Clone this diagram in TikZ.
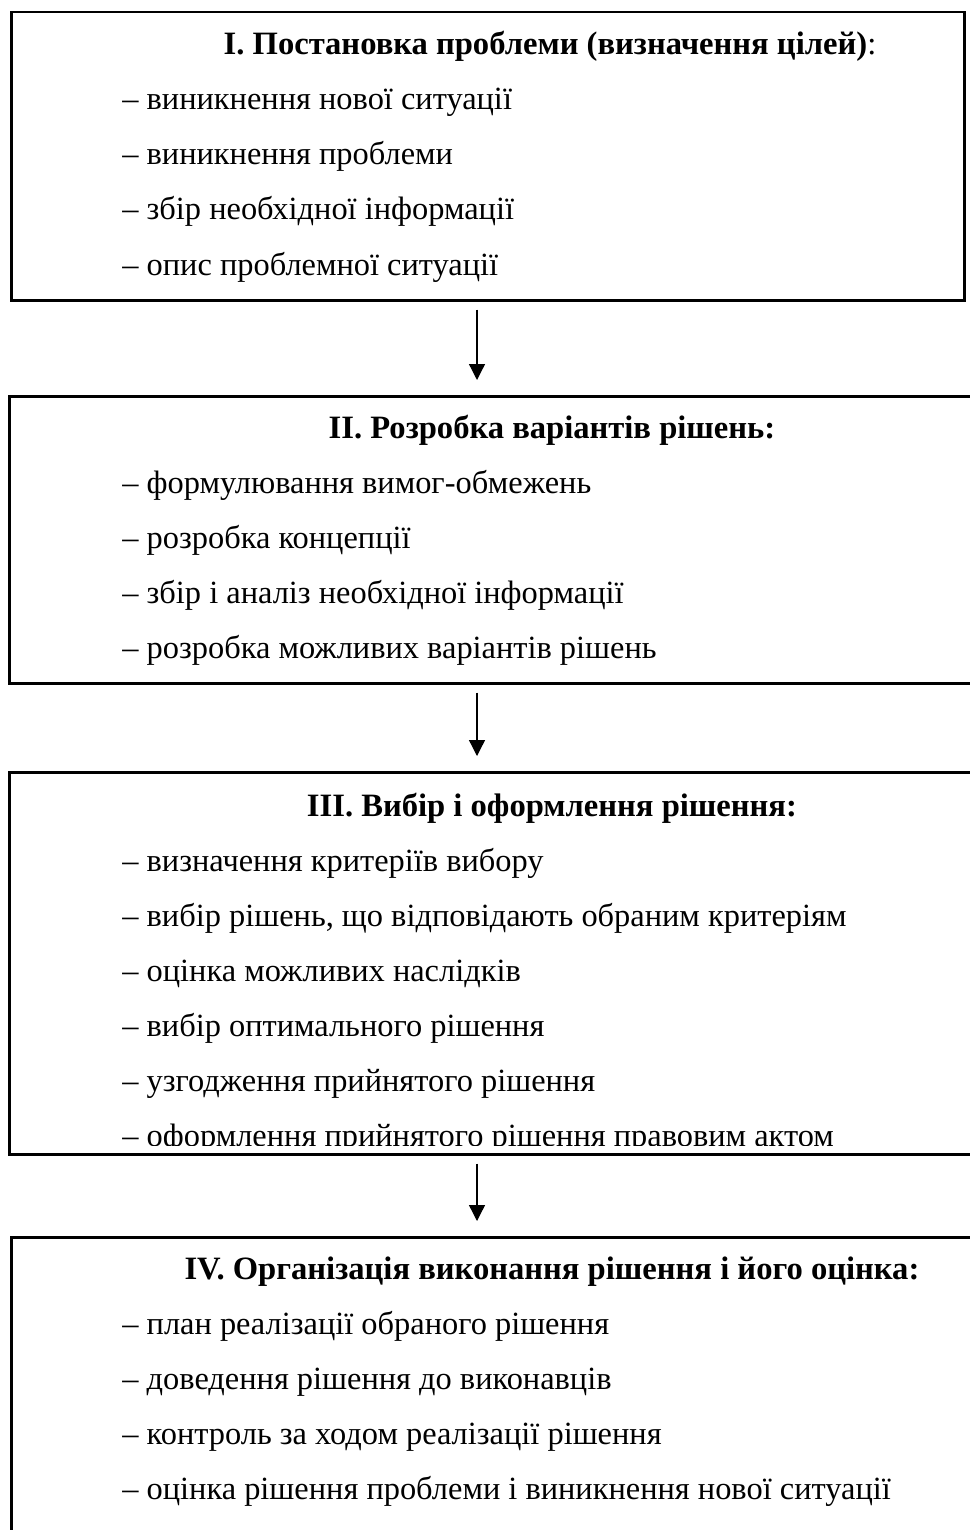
\documentclass[tikz,border=0pt]{standalone}
\usepackage{fontspec}
\setmainfont{Liberation Serif}
\usetikzlibrary{arrows.meta,positioning}

\begin{document}
\begin{tikzpicture}[x=0.5pt,y=-0.5pt,
  stage/.style={draw,line width=1.25pt,anchor=north west,inner sep=0pt},
  head/.style={anchor=base,inner sep=0pt,font=\fontsize{16.3pt}{19pt}\selectfont\bfseries},
  item/.style={anchor=base west,inner sep=0pt,font=\fontsize{16.2pt}{19pt}\selectfont},
  ar/.style={-{Triangle[width=8pt,length=8pt]},line width=0.65pt,shorten <=4pt,shorten >=7.5pt}]
\useasboundingbox (0,0) rectangle (969,1530);
% stage boxes
\node[stage,minimum width=476.5pt,minimum height=144pt] (st1) at (10,11) {};
\node[stage,minimum width=484pt,minimum height=143.5pt] (st2) at (8,395) {};
\node[stage,minimum width=484pt,minimum height=191pt] (st3) at (8,771) {};
\node[stage,minimum width=484pt,minimum height=160pt] (st4) at (10,1236) {};
% headings
\node[head] (h1) at (550,55) {I. Постановка проблеми (визначення цілей)\textmd{:}};
\node[head] (h2) at (552,438) {II. Розробка варіантів рішень:};
\node[head] (h3) at (552,816) {III. Вибір і оформлення рішення:};
\node[head] (h4) at (552,1279) {IV. Організація виконання рішення і його оцінка:};
% items
\foreach \t [count=\i] in {виникнення нової ситуації, виникнення проблеми,
  збір необхідної інформації, опис проблемної ситуації}
  \node[item] (a\i) at (122,55+55*\i) {-- \t};
\foreach \t [count=\i] in {формулювання вимог-обмежень, розробка концепції,
  збір і аналіз необхідної інформації, розробка можливих варіантів рішень}
  \node[item] (b\i) at (122,438+55*\i) {-- \t};
\begin{scope}
\clip (0,0) rectangle (969,1145);
\foreach \t [count=\i] in {визначення критеріїв вибору,
  {вибір рішень, що відповідають обраним критеріям}, оцінка можливих наслідків,
  вибір оптимального рішення, узгодження прийнятого рішення,
  оформлення прийнятого рішення правовим актом}
  \node[item] (c\i) at (122,816+55*\i) {-- \t};
\end{scope}
\foreach \t [count=\i] in {план реалізації обраного рішення,
  доведення рішення до виконавців, контроль за ходом реалізації рішення,
  оцінка рішення проблеми і виникнення нової ситуації}
  \node[item] (d\i) at (122,1279+55*\i) {-- \t};
% arrows
\coordinate (ax) at (477,0);
\draw[ar] (st1.south -| ax) -- (st2.north -| ax);
\draw[ar] (st2.south -| ax) -- (st3.north -| ax);
\draw[ar] (st3.south -| ax) -- (st4.north -| ax);
\end{tikzpicture}
\end{document}
